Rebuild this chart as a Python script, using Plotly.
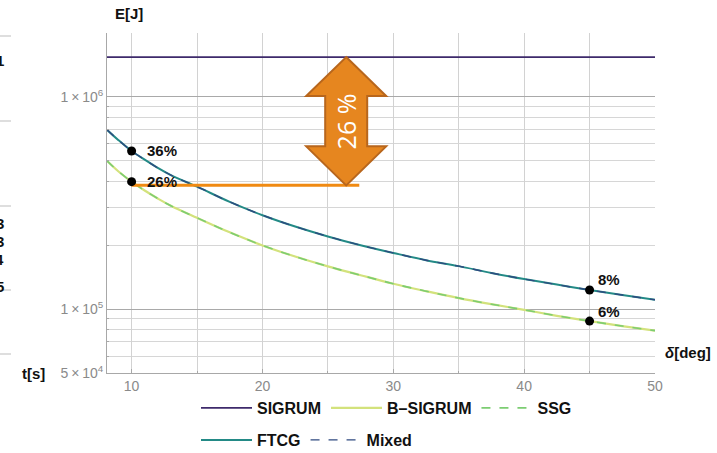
import math
import plotly.graph_objects as go

# ---------------- data ----------------
delta = [8.12, 9, 10, 11, 12, 13, 15, 17.5, 20, 22.5, 25, 27.5, 30, 32.5, 35, 37.5, 40, 42.5, 45, 47.5, 50]
sigrum = [1.54e6] * len(delta)
ftcg = [7.0e5, 6.25e5, 5.56e5, 5.06e5, 4.63e5, 4.28e5, 3.775e5, 3.2e5, 2.77e5, 2.45e5, 2.2e5, 2.0e5,
        1.84e5, 1.70e5, 1.594e5, 1.48e5, 1.386e5, 1.305e5, 1.23e5, 1.165e5, 1.106e5]
mixed = list(ftcg)
bsigrum = [5.0e5, 4.45e5, 3.985e5, 3.62e5, 3.32e5, 3.07e5, 2.693e5, 2.3e5, 1.996e5, 1.77e5, 1.59e5, 1.445e5,
           1.317e5, 1.215e5, 1.127e5, 1.055e5, 0.992e5, 0.93e5, 0.878e5, 0.832e5, 0.792e5]
ssg = list(bsigrum)

mark_delta = [10, 10, 45, 45]
mark_E = [5.56e5, 3.985e5, 1.23e5, 0.878e5]
mark_labels = ["36%", "26%", "8%", "6%"]

orange_x = [10, 27.4]
orange_E = [3.83e5, 3.83e5]
arrow_delta = 26.4
arrow_label = "26 %"

y_tickvals = [5e4, 1e5, 1e6]
y_ticktext = ["5\u2009×\u200910<sup>4</sup>", "1\u2009×\u200910<sup>5</sup>", "1\u2009×\u200910<sup>6</sup>"]
y_minor = [6e4, 7e4, 8e4, 9e4, 2e5, 3e5, 4e5, 5e5, 6e5, 7e5, 8e5, 9e5, 2e6]
x_tickvals = [10, 20, 30, 40, 50]
x_minor = [15, 25, 35, 45]

# ---------------- layout constants ----------------
W, H = 717, 453
ML, MR, MT, MB = 107, 62, 33, 80
PW, PH = W - ML - MR, H - MT - MB
XR = [8.12, 50]
YR = [math.log10(5e4), math.log10(2e6)]

FONT = "Liberation Sans, Arial, sans-serif"
C_SIG = "#3e2a6b"
C_BSIG = "#d3e27c"
C_SSG = "#7ccd72"
C_FTCG = "#238a86"
C_MIX = "#2f4a80"
ORANGE = "#f08a12"


def xp(x):
    return (x - XR[0]) / (XR[1] - XR[0])


def yp(v):
    return (math.log10(v) - YR[0]) / (YR[1] - YR[0])


fig = go.Figure()

common = dict(mode="lines", line_shape="spline")
fig.add_trace(go.Scatter(x=delta, y=sigrum, name="SIGRUM", line=dict(color=C_SIG, width=1.6),
                         legend="legend", **common))
fig.add_trace(go.Scatter(x=delta, y=bsigrum, name="B–SIGRUM", line=dict(color=C_BSIG, width=2.2),
                         legend="legend", **common))
fig.add_trace(go.Scatter(x=delta, y=ssg, name="SSG", line=dict(color=C_SSG, width=1.6, dash="dash"),
                         legend="legend", **common))
fig.add_trace(go.Scatter(x=delta, y=ftcg, name="FTCG", line=dict(color=C_FTCG, width=2.0),
                         legend="legend2", **common))
fig.add_trace(go.Scatter(x=delta, y=mixed, name="Mixed", line=dict(color=C_MIX, width=1.4, dash="dash"),
                         legend="legend2", **common))

# orange reference line
fig.add_trace(go.Scatter(x=orange_x, y=orange_E, mode="lines", line=dict(color=ORANGE, width=3),
                         showlegend=False, hoverinfo="skip"))

# black dots
fig.add_trace(go.Scatter(x=mark_delta, y=mark_E, mode="markers",
                         marker=dict(color="black", size=9), showlegend=False))

annotations = []
offsets = [(13, 0), (13, 0), (6, 11), (6, 10)]
for xv, yv, lab, (dx, dy) in zip(mark_delta, mark_E, mark_labels, offsets):
    annotations.append(dict(x=xv, y=math.log10(yv), xref="x", yref="y", text=lab, showarrow=False,
                            xanchor="left", yanchor="middle", xshift=dx, yshift=dy,
                            font=dict(family=FONT, size=15, color="#111", weight="bold")))

# double arrow (paper coordinates computed from data)
xc = xp(arrow_delta)
top = yp(sigrum[0])
bot = yp(orange_E[0])
hw, hs, hh = 40 / PW, 21 / PW, 39 / PH
pts = [(xc, top), (xc + hw, top - hh), (xc + hs, top - hh), (xc + hs, bot + hh), (xc + hw, bot + hh),
       (xc, bot), (xc - hw, bot + hh), (xc - hs, bot + hh), (xc - hs, top - hh), (xc - hw, top - hh)]
path = "M " + " L ".join(f"{a:.5f},{b:.5f}" for a, b in pts) + " Z"
shapes = [dict(type="path", xref="paper", yref="paper", path=path,
               fillcolor="#e6861f", line=dict(color="#b8661c", width=2), layer="above")]
annotations.append(dict(x=xc, y=(top + bot) / 2, xref="paper", yref="paper", text=arrow_label,
                        showarrow=False, textangle=-90, xanchor="center", yanchor="middle",
                        font=dict(family="Open Sans, " + FONT, size=25, color="white")))

# axis titles
annotations.append(dict(x=(113 - ML) / PW, y=(H - MB - 14) / PH, xref="paper", yref="paper",
                        text="E[J]", showarrow=False, xanchor="left", yanchor="middle",
                        font=dict(family=FONT, size=15, color="#111", weight="bold")))
annotations.append(dict(x=(663 - ML) / PW, y=(H - MB - 352) / PH, xref="paper", yref="paper",
                        text="<i>δ</i>[deg]", showarrow=False, xanchor="left", yanchor="middle",
                        font=dict(family=FONT, size=15, color="#111", weight="bold")))

# cropped neighbouring figure on the far left
left_texts = [("1", 60), ("3", 223), ("3", 241), ("4", 259), ("5", 286)]
for t, py in left_texts:
    annotations.append(dict(x=(6 - ML) / PW, y=(H - MB - py) / PH, xref="paper", yref="paper", text=t,
                            showarrow=False, xanchor="right", yanchor="middle",
                            font=dict(family=FONT, size=15, color="#111", weight="bold")))
annotations.append(dict(x=(20 - ML) / PW, y=(H - MB - 373) / PH, xref="paper", yref="paper", text="t[s]",
                        showarrow=False, xanchor="left", yanchor="middle",
                        font=dict(family=FONT, size=15, color="#111", weight="bold")))
for py in [36, 121, 206, 290, 354]:
    yy = (H - MB - py) / PH
    shapes.append(dict(type="line", xref="paper", yref="paper", x0=(0 - ML) / PW, x1=(11 - ML) / PW,
                       y0=yy, y1=yy, line=dict(color="#bdbdbd", width=1)))

legend_common = dict(orientation="h", xref="container", yref="container", xanchor="left", yanchor="middle",
                     font=dict(family=FONT, size=16, color="#111", weight="bold"),
                     bgcolor="rgba(0,0,0,0)", itemwidth=51, tracegroupgap=0)

fig.update_layout(
    width=W, height=H,
    margin=dict(l=ML, r=MR, t=MT, b=MB, autoexpand=False),
    paper_bgcolor="white", plot_bgcolor="white",
    font=dict(family=FONT),
    xaxis=dict(range=XR, tickvals=x_tickvals, showgrid=True, gridcolor="#d2d2d2", gridwidth=1,
               zeroline=False, showline=True, linecolor="#a8a8a8", linewidth=1,
               ticks="inside", ticklen=4, tickcolor="#a8a8a8",
               tickfont=dict(family=FONT, size=14, color="#8a8a8a"),
               minor=dict(tickvals=x_minor, showgrid=True, gridcolor="#d2d2d2", ticks="inside",
                          ticklen=2, tickcolor="#a8a8a8")),
    yaxis=dict(type="log", range=YR, tickvals=y_tickvals, ticktext=y_ticktext, showgrid=True,
               gridcolor="#a9a9a9", gridwidth=1, zeroline=False, showline=True, linecolor="#a8a8a8",
               linewidth=1, ticks="inside", ticklen=4, tickcolor="#a8a8a8",
               tickfont=dict(family=FONT, size=14, color="#8a8a8a"),
               minor=dict(tickvals=y_minor, showgrid=True, gridcolor="#d6d6d6", ticks="inside",
                          ticklen=2, tickcolor="#a8a8a8")),
    legend=dict(x=196 / W, y=1 - 408 / H, **legend_common),
    legend2=dict(x=196 / W, y=1 - 440 / H, **legend_common),
    shapes=shapes,
    annotations=annotations,
)

fig.write_html("out.html", config={"displayModeBar": False},
               post_script="document.body.style.margin='0';")
